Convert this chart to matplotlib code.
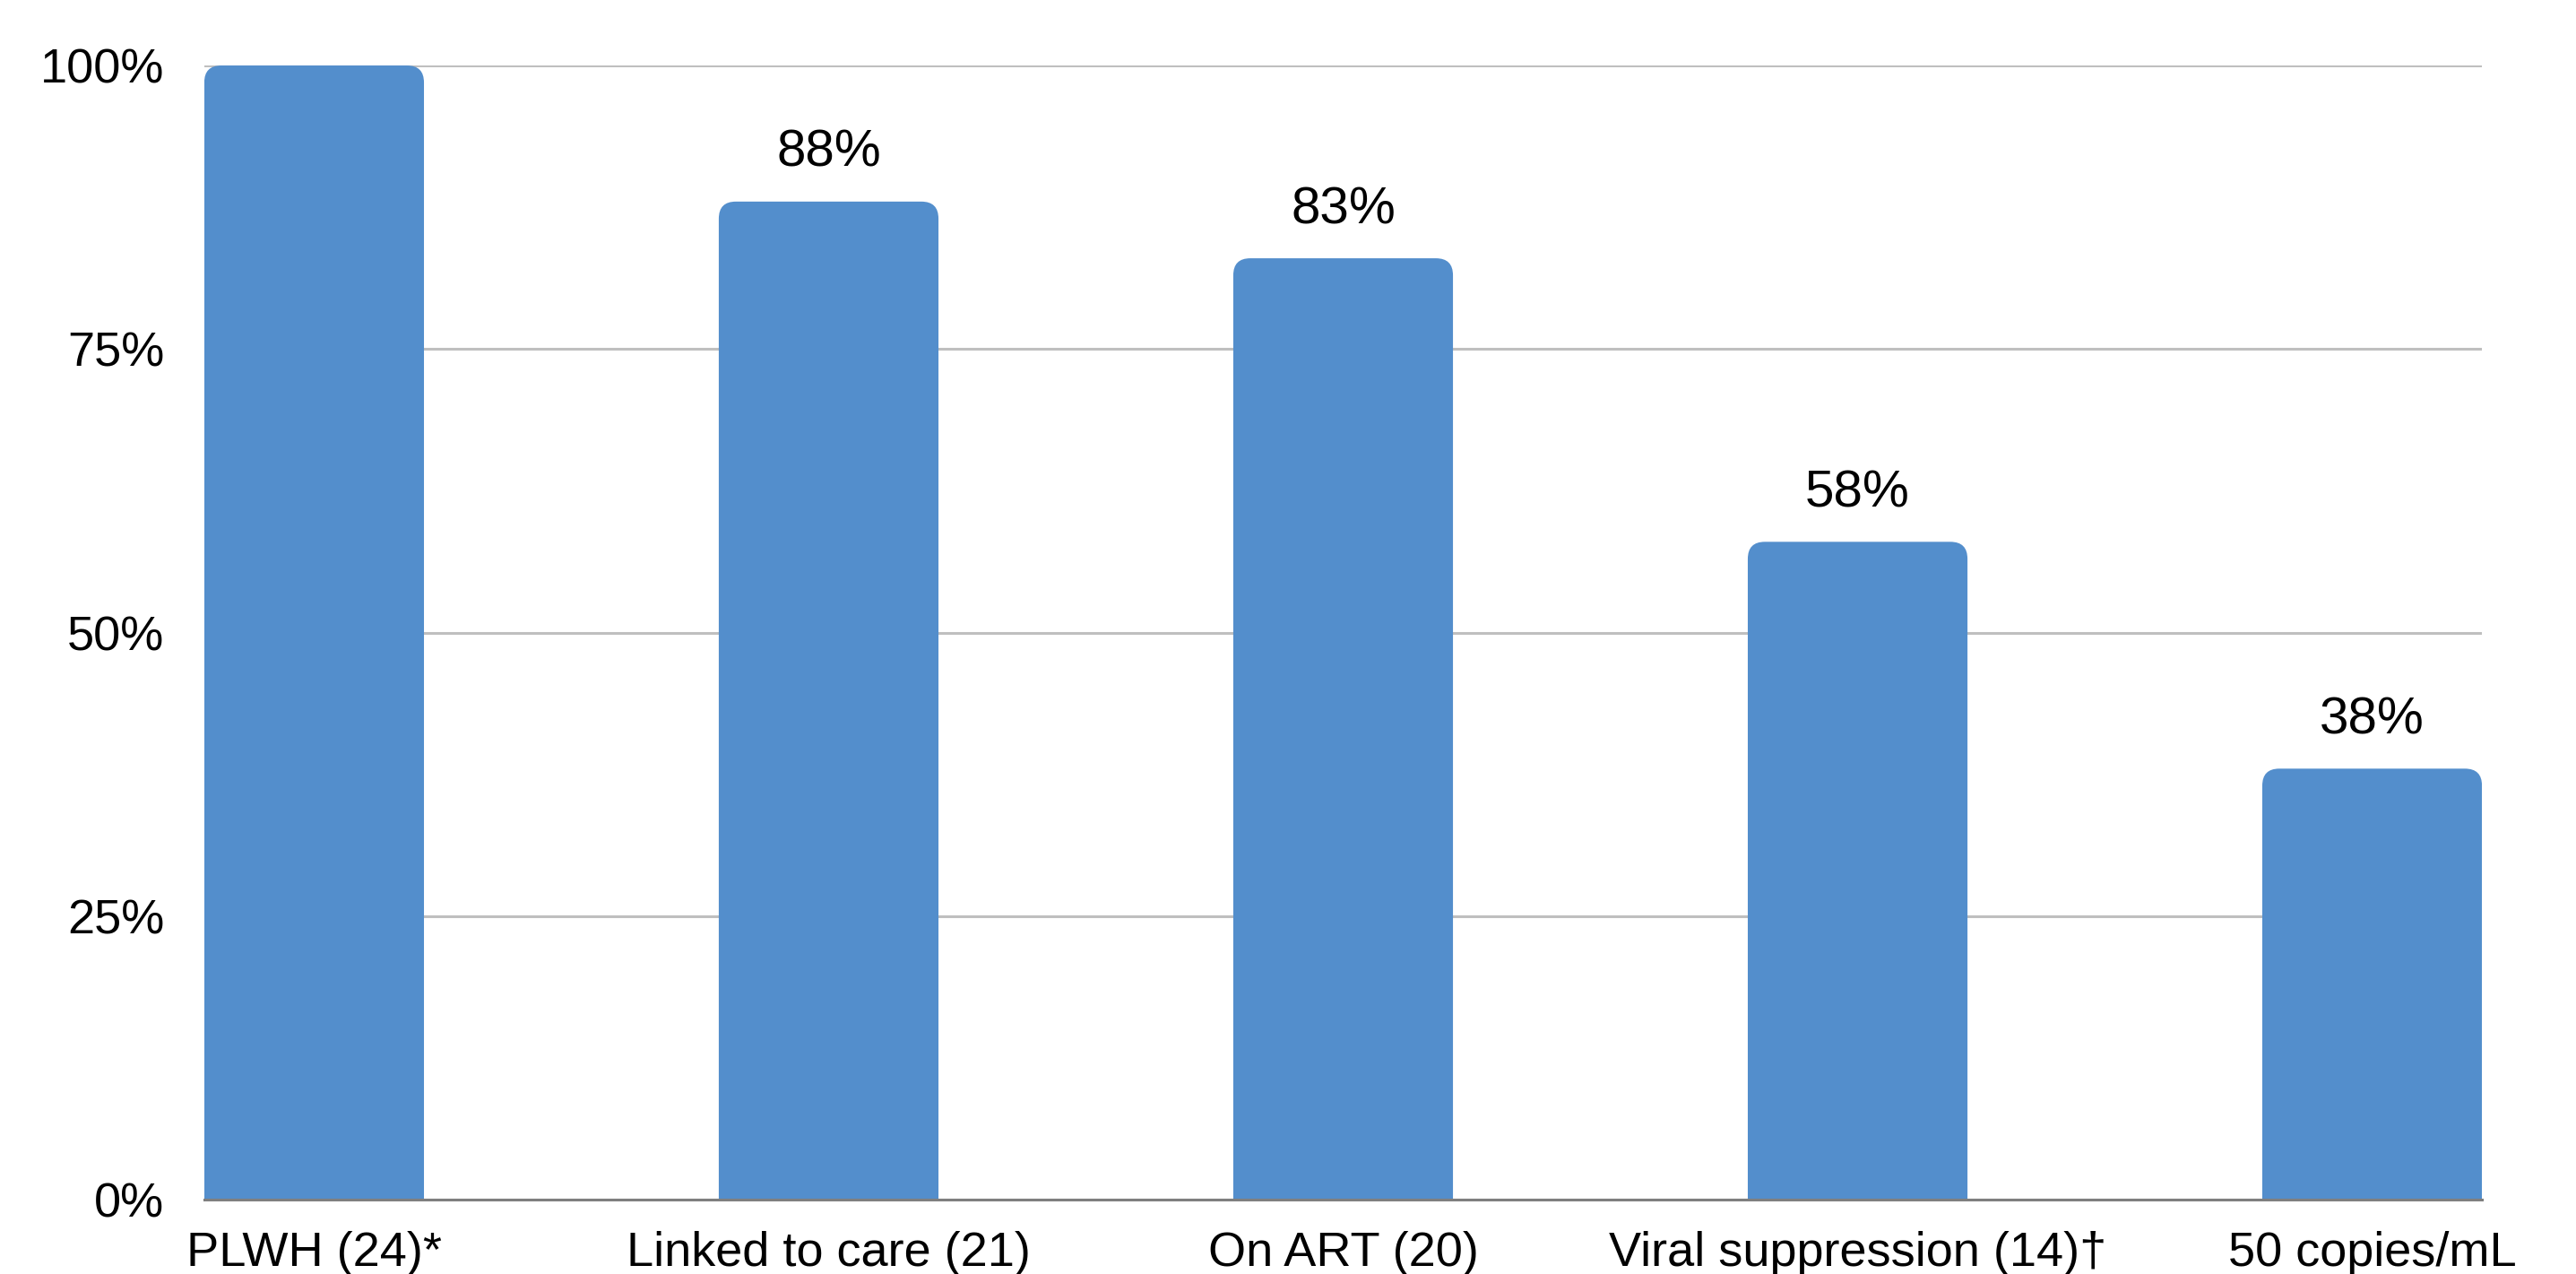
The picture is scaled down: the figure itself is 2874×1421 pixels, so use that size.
import numpy as np
import matplotlib.pyplot as plt
from matplotlib.patches import FancyBboxPatch

categories = ["PLWH (24)*", "Linked to care (21)", "On ART (20)",
              "Viral suppression (14)\u2020", "50 copies/mL"]
values = [1.00, 0.88, 0.83, 0.58, 0.38]
value_labels = ["", "88%", "83%", "58%", "38%"]
yticks = [0, 0.25, 0.5, 0.75, 1.0]
ytick_labels = ["0%", "25%", "50%", "75%", "100%"]

bar_color = "#538ECC"
bar_width = 0.427

plt.rcParams['font.family'] = ['Liberation Sans', 'DejaVu Sans']

fig = plt.figure(figsize=(28.74, 14.21), dpi=100)
ax = fig.add_axes([0.0793, 0.0584, 0.8842, 0.8902])

x = np.arange(len(categories))
bars = ax.bar(x, values, width=bar_width, color="none", edgecolor="none")
ax.set_xlim(-bar_width / 2, len(categories) - 1 + bar_width / 2)
ax.set_ylim(0, 1)

# rounded top corners: work out px -> data scale so corners look circular
fw, fh = fig.get_size_inches() * fig.dpi
pos = ax.get_position()
x_per_px = (ax.get_xlim()[1] - ax.get_xlim()[0]) / (pos.width * fw)
y_per_px = (ax.get_ylim()[1] - ax.get_ylim()[0]) / (pos.height * fh)
radius_px = 19
r = radius_px * x_per_px
aspect = y_per_px / x_per_px
extra = 0.05  # push the bottom corners below the axis so they get clipped

for b in bars:
    p = FancyBboxPatch((b.get_x(), -extra), b.get_width(), b.get_height() + extra,
                       boxstyle=f"round,pad=0,rounding_size={r}",
                       mutation_aspect=aspect, fc=bar_color, ec="none", zorder=2)
    ax.add_patch(p)

for xi, v, lab in zip(x, values, value_labels):
    if lab:
        ax.annotate(lab, (xi, v), xytext=(0, 28), textcoords="offset points",
                    ha="center", va="baseline", fontsize=42, color="black")

ax.set_xticks(x, categories)
ax.set_yticks(yticks, ytick_labels)
ax.tick_params(axis="x", length=0, pad=25, labelsize=39)
ax.tick_params(axis="y", length=0, pad=32, labelsize=39)

ax.yaxis.grid(True, color="#BFBFBF", linewidth=2.2)
ax.set_axisbelow(True)
for s in ["left", "right", "top"]:
    ax.spines[s].set_visible(False)
ax.spines["bottom"].set_color("#7F7F7F")
ax.spines["bottom"].set_linewidth(2.2)

fig.savefig("out.png", dpi=100)
